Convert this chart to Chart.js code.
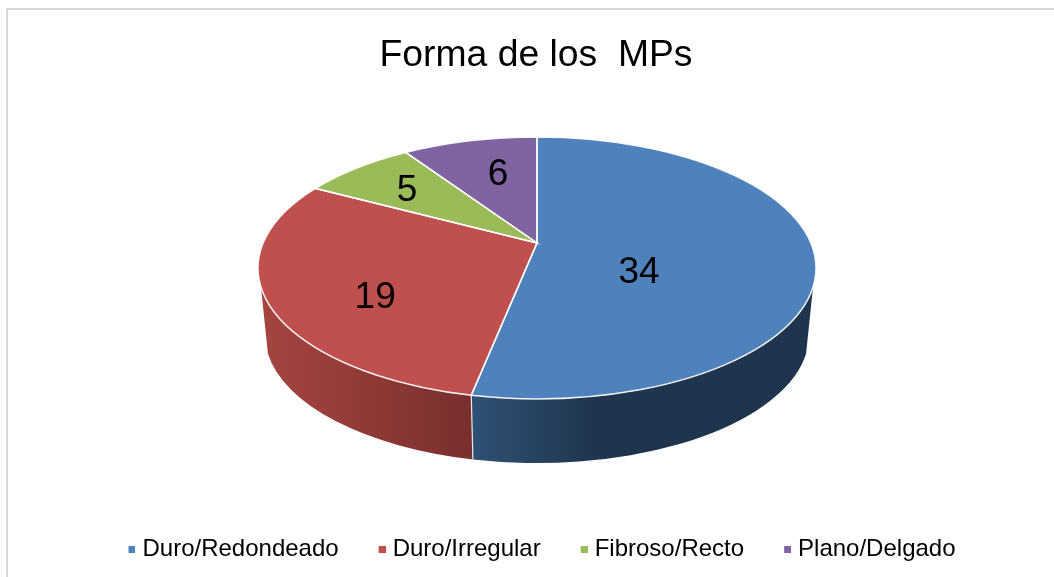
<!DOCTYPE html>
<html><head><meta charset="utf-8">
<style>html,body{margin:0;padding:0;background:#fff}#w{position:relative;width:1054px;height:577px;overflow:hidden}</style>
<script src="https://cdn.jsdelivr.net/npm/chart.js@4"></script>
</head><body><div id="w"><canvas id="c" width="1054" height="577"></canvas></div>
<script>
const categories = ['Duro/Redondeado','Duro/Irregular','Fibroso/Recto','Plano/Delgado'];
const values = [34,19,5,6];
const colors = ['#4f81bd','#c0504d','#9bbb59','#8064a2'];
const chartTitle = 'Forma de los  MPs';

// Look of the tilted pie
const tilt = {xStretch:279/131, apexShift:25/131, depth:67, bottomRx:272, bottomRy:128};
const wallStops = {
  0:[[472,'#2f5176'],[600,'#1f344d'],[810,'#1f344d']],
  1:[[262,'#a5453f'],[470,'#792f2e']]
};
const labelSpots = [[0.366,-0.0152],[-0.58,-0.2057],[-0.466,0.611],[-0.14,0.732]];

function toEllipse(a){ // chart angle -> angle on the tilted rim
  const th=a+Math.PI/2, e=tilt.apexShift, s=Math.sqrt(1-e*e), d=1+e*Math.cos(th);
  const u=s*Math.sin(th)/d, v=(Math.cos(th)+e)/d;
  let t=Math.atan2(u,v); while(t<th-Math.PI) t+=2*Math.PI; while(t>th+Math.PI) t-=2*Math.PI;
  return t-Math.PI/2;
}
function marker(col){const m=document.createElement('canvas');m.width=13;m.height=7;const g=m.getContext('2d');g.fillStyle=col;g.fillRect(6,0,7,7);return m;}

const pie3d = {
  id:'pie3d',
  afterLayout(chart){
    chart.chartArea.top=137; chart.chartArea.bottom=399; chart.chartArea.height=262;
    chart.legend.left+=4.5; chart.legend.right+=4.5;
    chart.titleBlock.left-=1; chart.titleBlock.right-=1;
  },
  beforeDatasetsDraw(chart){
    const ctx=chart.ctx, arcs=chart.getDatasetMeta(0).data;
    const cx=arcs[0].x, cy=arcs[0].y, ry=arcs[0].outerRadius, rx=ry*tilt.xStretch;
    const by=cy+tilt.depth, brx=tilt.bottomRx, bry=tilt.bottomRy;
    const visStart=Math.PI/2-Math.asin(276/279), visEnd=Math.PI-visStart;
    ctx.save();
    // side wall
    arcs.forEach((arc,i)=>{
      const a0=Math.max(toEllipse(arc.startAngle),visStart), a1=Math.min(toEllipse(arc.endAngle),visEnd);
      if(a1<=a0) return;
      const g=ctx.createLinearGradient(cx-rx,0,cx+rx,0);
      const W=2*rx;
      (wallStops[i]||[]).forEach(s=>g.addColorStop((s[0]-(cx-rx))/W,s[1]));
      ctx.beginPath();
      ctx.ellipse(cx,cy,rx,ry,0,a0,a1);
      ctx.ellipse(cx,by,brx,bry,0,Math.min(a1,Math.PI),Math.max(a0,0),true);
      ctx.closePath();
      ctx.fillStyle=g; ctx.fill();
    });
    // boundary line on the wall
    const bAngle=toEllipse(arcs[0].endAngle);
    ctx.strokeStyle='rgba(255,255,255,0.85)'; ctx.lineWidth=1.2;
    ctx.beginPath();
    ctx.moveTo(cx+rx*Math.cos(bAngle),cy+ry*Math.sin(bAngle));
    ctx.lineTo(cx+brx*Math.cos(bAngle),by+bry*Math.sin(bAngle));
    ctx.stroke();
    // top face
    const ax=cx, ay=cy-tilt.apexShift*ry;
    arcs.forEach((arc,i)=>{
      ctx.beginPath();
      ctx.moveTo(ax,ay);
      ctx.ellipse(cx,cy,rx,ry,0,toEllipse(arc.startAngle),toEllipse(arc.endAngle));
      ctx.closePath();
      ctx.fillStyle=colors[i]; ctx.fill();
    });
    arcs.forEach(arc=>{
      ctx.beginPath();
      ctx.moveTo(ax,ay);
      ctx.ellipse(cx,cy,rx,ry,0,toEllipse(arc.startAngle),toEllipse(arc.endAngle));
      ctx.closePath();
      ctx.strokeStyle='rgba(255,255,255,0.9)'; ctx.lineWidth=1.5; ctx.stroke();
    });
    // values
    ctx.fillStyle='#000'; ctx.font='37px "Liberation Sans"'; ctx.textAlign='center'; ctx.textBaseline='middle';
    values.forEach((v,i)=>ctx.fillText(String(v),cx+labelSpots[i][0]*rx,cy-labelSpots[i][1]*ry+3));
    ctx.restore();
    return false;
  },
  beforeDraw(chart){
    const ctx=chart.ctx;
    ctx.save();
    ctx.fillStyle='#fff'; ctx.fillRect(0,0,1054,577);
    ctx.strokeStyle='#d9d9d9'; ctx.lineWidth=2;
    ctx.beginPath(); ctx.moveTo(7,577); ctx.lineTo(7,9); ctx.lineTo(1054,9); ctx.stroke();
    ctx.restore();
  }
};

new Chart(document.getElementById('c'),{
  type:'pie',
  data:{labels:categories,datasets:[{data:values,backgroundColor:colors,borderWidth:0}]},
  plugins:[pie3d],
  options:{
    responsive:false,animation:false,
    layout:{padding:{left:20,right:0,top:0,bottom:6}},
    plugins:{
      tooltip:{enabled:false},
      title:{display:true,text:chartTitle,color:'#000',font:{family:'"Liberation Sans"',size:37.3,weight:'normal',lineHeight:1.2},padding:{top:33,bottom:20}},
      legend:{position:'bottom',labels:{
        color:'#000',font:{family:'"Liberation Sans"',size:24},
        usePointStyle:true,boxWidth:3,boxHeight:3,pointStyleWidth:3,padding:39,
        generateLabels(){return categories.map((t,i)=>({text:t,fillStyle:colors[i],strokeStyle:colors[i],lineWidth:0,pointStyle:marker(colors[i]),index:i}));}
      }}
    }
  }
});
</script></body></html>
